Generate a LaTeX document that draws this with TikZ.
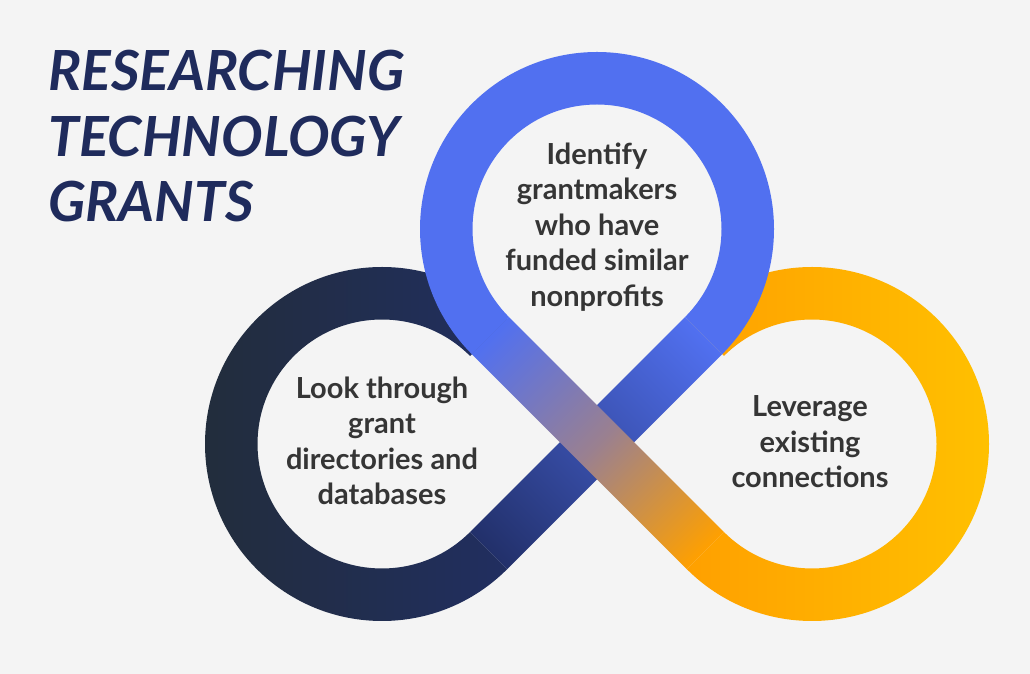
\documentclass[tikz,border=0pt]{standalone}
\usepackage{fontspec}
\setmainfont{Lato}
\usetikzlibrary{calc}
\definecolor{bg}{HTML}{F4F4F4}
\definecolor{navyL}{HTML}{222D3A}
\definecolor{navyR}{HTML}{212E60}
\definecolor{bandNavy}{HTML}{22306A}
\definecolor{ringBlue}{HTML}{5170F0}
\definecolor{mauve}{HTML}{9A8090}
\definecolor{orangeL}{HTML}{FFA000}
\definecolor{orangeR}{HTML}{FFC200}
\definecolor{titleNavy}{HTML}{1F2B5C}
\definecolor{textGray}{HTML}{353535}
\begin{document}
\begin{tikzpicture}[x=1pt,y=1pt,
  steptext/.style={align=center, text=textGray, font=\fontsize{29}{35.5}\selectfont\bfseries, inner sep=0pt},
  titletext/.style={align=left, text=titleNavy, font=\fontsize{55.3}{65.5}\selectfont\bfseries\itshape, inner sep=0pt, anchor=north west}]
\fill[bg] (0,0) rectangle (1030,674);
\useasboundingbox (0,0) rectangle (1030,674);
\def\Ro{177}\def\Ri{124.5}\def\Rm{150.75}\def\Hw{26.25}\def\Bl{304.06}
\coordinate (cL) at (382,230);
\coordinate (cT) at (597,445);
\coordinate (cR) at (812,230);
\coordinate (m1) at ($(cL)+(-45:\Rm)$);
\coordinate (m2) at ($(cT)+(225:\Rm)$);
% navy ring
\shade[left color=navyL, right color=navyR]
  ($(cL)+(-45:\Ro)$) arc[start angle=-45, end angle=-315, radius=\Ro]
  -- ($(cL)+(45:\Ri)$) arc[start angle=45, end angle=315, radius=\Ri] -- cycle;
% orange ring
\shade[left color=orangeL, right color=orangeR]
  ($(cR)+(225:\Ro)$) arc[start angle=225, end angle=495, radius=\Ro]
  -- ($(cR)+(135:\Ri)$) arc[start angle=135, end angle=-135, radius=\Ri] -- cycle;
% band navy -> blue
\begin{scope}[transform canvas={rotate around={45:(m1)}}]
\shade[left color=bandNavy, right color=ringBlue]
  ($(m1)+(0,-\Hw)$) rectangle ($(m1)+(\Bl,\Hw)$);
\end{scope}
% blue ring
\fill[ringBlue]
  ($(cT)+(225:\Ro)$) arc[start angle=225, end angle=-45, radius=\Ro]
  -- ($(cT)+(-45:\Ri)$) arc[start angle=-45, end angle=225, radius=\Ri] -- cycle;
% band blue -> orange
\begin{scope}[transform canvas={rotate around={-45:(m2)}}]
\shade[left color=ringBlue, right color=orangeL, middle color=mauve]
  ($(m2)+(0,-\Hw)$) rectangle ($(m2)+(\Bl,\Hw)$);
\end{scope}
% texts
\node[titletext] (title) at (48,624) {RESEARCHING\\TECHNOLOGY\\GRANTS};
\node[steptext] (tL) at (382,233) {Look through\\grant\\directories and\\databases};
\node[steptext] (tT) at (597,447) {Identify\\grantmakers\\who have\\funded similar\\nonprofits};
\node[steptext] (tR) at (810,232) {Leverage\\existing\\connections};
\end{tikzpicture}
\end{document}
